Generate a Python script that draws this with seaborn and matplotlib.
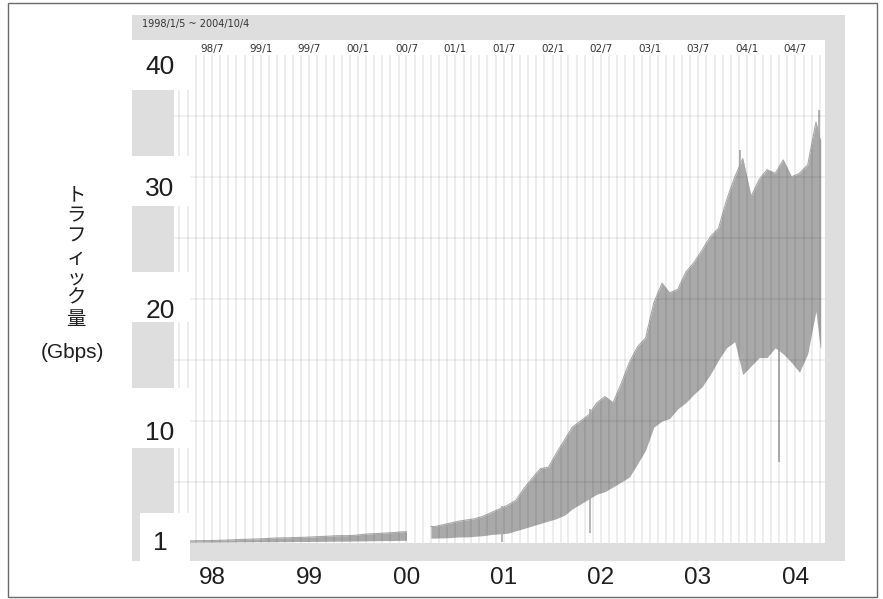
import numpy as np
import pandas as pd
import matplotlib
matplotlib.use("Agg")
import matplotlib.pyplot as plt
from matplotlib.patches import Rectangle
import seaborn as sns

# ---------------------------------------------------------------------------
# Monthly traffic range (Gbps), 1998/1 .. 2004/10 (NaN = no measurement)
# ---------------------------------------------------------------------------
month_start = pd.date_range("1998-01-01", "2004-10-01", freq="MS")
data_start = pd.Timestamp("1998-01-05")
data_end = pd.Timestamp("2004-10-04")

traffic_high = [
    0.15, 0.16, 0.17, 0.18, 0.19, 0.20, 0.21, 0.23, 0.26, 0.29, 0.31, 0.33,   # 1998
    0.36, 0.40, 0.42, 0.43, 0.45, 0.47, 0.50, 0.53, 0.56, 0.60, 0.60, 0.62,   # 1999
    0.70, 0.75, 0.78, 0.82, 0.86, 0.92, np.nan, np.nan, np.nan, 1.35, 1.50, 1.65,  # 2000
    1.80, 1.90, 2.00, 2.20, 2.50, 2.80, 3.10, 3.50, 4.50, 5.30, 6.10, 6.20,   # 2001
    7.40, 8.50, 9.50, 10.0, 10.5, 11.5, 12.0, 11.5, 13.1, 14.8, 16.1, 16.8,   # 2002
    19.7, 21.3, 20.5, 20.8, 22.2, 23.0, 24.0, 25.1, 25.8, 28.1, 30.0, 31.5,   # 2003
    28.4, 29.8, 30.6, 30.3, 31.4, 30.0, 30.3, 31.0, 34.5, 33.0,               # 2004
]
traffic_low = [
    0.05, 0.05, 0.06, 0.06, 0.07, 0.07, 0.07, 0.08, 0.08, 0.09, 0.09, 0.10,
    0.10, 0.10, 0.11, 0.11, 0.12, 0.12, 0.13, 0.13, 0.14, 0.15, 0.15, 0.16,
    0.17, 0.18, 0.19, 0.20, 0.20, 0.22, np.nan, np.nan, np.nan, 0.40, 0.42, 0.45,
    0.50, 0.50, 0.55, 0.60, 0.70, 0.75, 0.80, 1.00, 1.20, 1.40, 1.60, 1.80,
    2.00, 2.30, 2.80, 3.20, 3.60, 4.00, 4.20, 4.60, 5.00, 5.40, 6.50, 7.60,
    9.50, 10.0, 10.2, 11.0, 11.5, 12.2, 12.8, 13.8, 15.0, 16.0, 16.5, 13.8,
    14.5, 15.2, 15.2, 16.0, 15.5, 14.8, 14.0, 15.5, 19.0, 16.0,
]

# single-day peaks and dips that stand out from the band
spike_dates = pd.to_datetime(["2001-06-26", "2002-05-22", "2003-12-05",
                              "2004-05-01", "2004-09-28"])
spike_low = [0.1, 0.8, 16.0, 6.6, 20.0]
spike_high = [3.0, 11.0, 32.2, 16.0, 35.5]

# axis labelling
y_tick_values = [40, 30, 20, 10, 1]
y_tick_labels = ["40", "30", "20", "10", "1"]
year_labels = ["98", "99", "00", "01", "02", "03", "04"]
half_year_labels = ["98/7", "99/1", "99/7", "00/1", "00/7", "01/1", "01/7",
                    "02/1", "02/7", "03/1", "03/7", "04/1", "04/7"]
period_text = "1998/1/5 ~ 2004/10/4"

# ---------------------------------------------------------------------------
sns.set_theme(style="white")
plt.rcParams["font.family"] = ["Liberation Sans", "DejaVu Sans"]

W, H = 883, 599
fig = plt.figure(figsize=(W / 100, H / 100), dpi=100)
fig.patch.set_facecolor("white")


def px_rect(x0, y0, x1, y1, **kw):
    """Rectangle given in pixel coordinates measured from the top-left."""
    return Rectangle((x0 / W, 1 - y1 / H), (x1 - x0) / W, (y1 - y0) / H,
                     transform=fig.transFigure, **kw)


PANEL = "#dedede"
BAND = "#a9a9a9"

# outer frame and grey panel behind the chart
fig.patches.append(px_rect(8, 3, 877, 597, facecolor="none",
                           edgecolor="#6a6a6a", lw=1.0, zorder=-2))
fig.patches.append(px_rect(132, 15, 845, 561, facecolor=PANEL,
                           edgecolor="none", zorder=-1))

ax_rect = [163.7 / W, 1 - 543 / H, (825 - 163.7) / W, (543 - 55) / H]
xlim = (pd.Timestamp("1998-01-01"), pd.Timestamp("2004-10-20"))
ylim = (0, 40)

# --- data axes -------------------------------------------------------------
ax = fig.add_axes(ax_rect, zorder=0)
ax.set_facecolor("white")

df = pd.DataFrame({"month": month_start, "high": traffic_high, "low": traffic_low})
df["mid"] = df["month"] + pd.Timedelta(days=15)

# draw each continuous run of months as a band through the month mid-points,
# held flat out to the first and last day of the run
valid = df["high"].notna().to_numpy()
runs, i = [], 0
while i < len(df):
    if valid[i]:
        j = i
        while j + 1 < len(df) and valid[j + 1]:
            j += 1
        runs.append((i, j))
        i = j + 1
    else:
        i += 1
for i, j in runs:
    seg = df.iloc[i:j + 1]
    first = data_start if i == 0 else seg["month"].iloc[0]
    last = df["month"].iloc[j + 1] if j + 1 < len(df) else data_end
    mids = list(seg["mid"])
    if j + 1 == len(df):
        mids[-1] = data_end - pd.Timedelta(days=2)
    xs = [first] + mids + [last]
    hi = [seg["high"].iloc[0]] + list(seg["high"]) + [seg["high"].iloc[-1]]
    lo = [seg["low"].iloc[0]] + list(seg["low"]) + [seg["low"].iloc[-1]]
    ax.fill_between(xs, lo, hi, color=BAND, lw=0, zorder=1)
    sns.lineplot(x=xs, y=hi, color=BAND, lw=0.8, ax=ax, zorder=1)

ax.vlines(spike_dates, spike_low, spike_high, color=BAND, lw=1.2, zorder=1)

ax.set_xlim(*xlim)
ax.set_ylim(*ylim)
ax.set_xticks(month_start)
ax.set_yticks(np.arange(5, 40, 5))
ax.set_axisbelow(False)
ax.xaxis.grid(True, color="black", alpha=0.085, lw=1.2)
ax.yaxis.grid(True, color="black", alpha=0.07, lw=1.1)
ax.tick_params(length=0, labelbottom=False, labelleft=False)
ax.set_xlabel("")
ax.set_ylabel("")
for s in ax.spines.values():
    s.set_visible(False)

# --- panel cut-outs: white label boxes and grey blocks at the left ------------
fig.patches.append(px_rect(132, 40, 825, 55, facecolor="white", edgecolor="none", zorder=1))
for y0, y1 in [(40, 90), (156, 206), (272, 322), (388, 448)]:
    fig.patches.append(px_rect(132, y0, 190, y1, facecolor="white", edgecolor="none", zorder=1))
fig.patches.append(px_rect(140, 513, 190, 561, facecolor="white", edgecolor="none", zorder=1))
for y0, y1 in [(90, 156), (206, 272), (322, 388), (448, 513)]:
    fig.patches.append(px_rect(132, y0, 174, y1, facecolor=PANEL, edgecolor="none", zorder=1))

# --- label axes on top of the cut-outs --------------------------------------
ax2 = fig.add_axes(ax_rect, zorder=3)
ax2.set_facecolor("none")
ax2.set_xlim(*xlim)
ax2.set_ylim(*ylim)
for s in ax2.spines.values():
    s.set_visible(False)

ax2.set_yticks(y_tick_values)
ax2.set_yticklabels(y_tick_labels, fontsize=19, color="#1e1e1e")
ax2.tick_params(axis="y", length=0, pad=2.7)
for lbl in ax2.get_yticklabels():
    lbl.set_horizontalalignment("center")
    lbl.set_verticalalignment("top")

year_mid = pd.to_datetime([f"{y}-07-01" for y in range(1998, 2005)])
ax2.set_xticks(year_mid)
ax2.set_xticklabels(year_labels, fontsize=17.5, color="#1e1e1e")
ax2.tick_params(axis="x", length=0, pad=17)

half_years = pd.date_range("1998-07-01", "2004-07-01", freq="6MS")
top = ax2.secondary_xaxis("top")
top.set_xticks(half_years)
top.set_xticklabels(half_year_labels, fontsize=7.5, color="#333333",
                    family="DejaVu Sans")
top.tick_params(length=0, pad=0.6)
for s in top.spines.values():
    s.set_visible(False)

# period caption in the grey header strip
fig.text(142 / W, 1 - 24 / H, period_text, fontsize=7, color="#333333",
         family="DejaVu Sans", ha="left", va="center", zorder=4)

# vertical axis title
fig.text(76 / W, 1 - 257 / H, "\n".join("トラフィック量"), fontsize=14,
         family=["Noto Sans CJK JP", "DejaVu Sans"], ha="center", va="center",
         linespacing=0.98, color="#1e1e1e")
fig.text(72 / W, 1 - 353 / H, "(Gbps)", fontsize=15, ha="center", va="center",
         color="#1e1e1e")

fig.savefig("out.png", dpi=100)
